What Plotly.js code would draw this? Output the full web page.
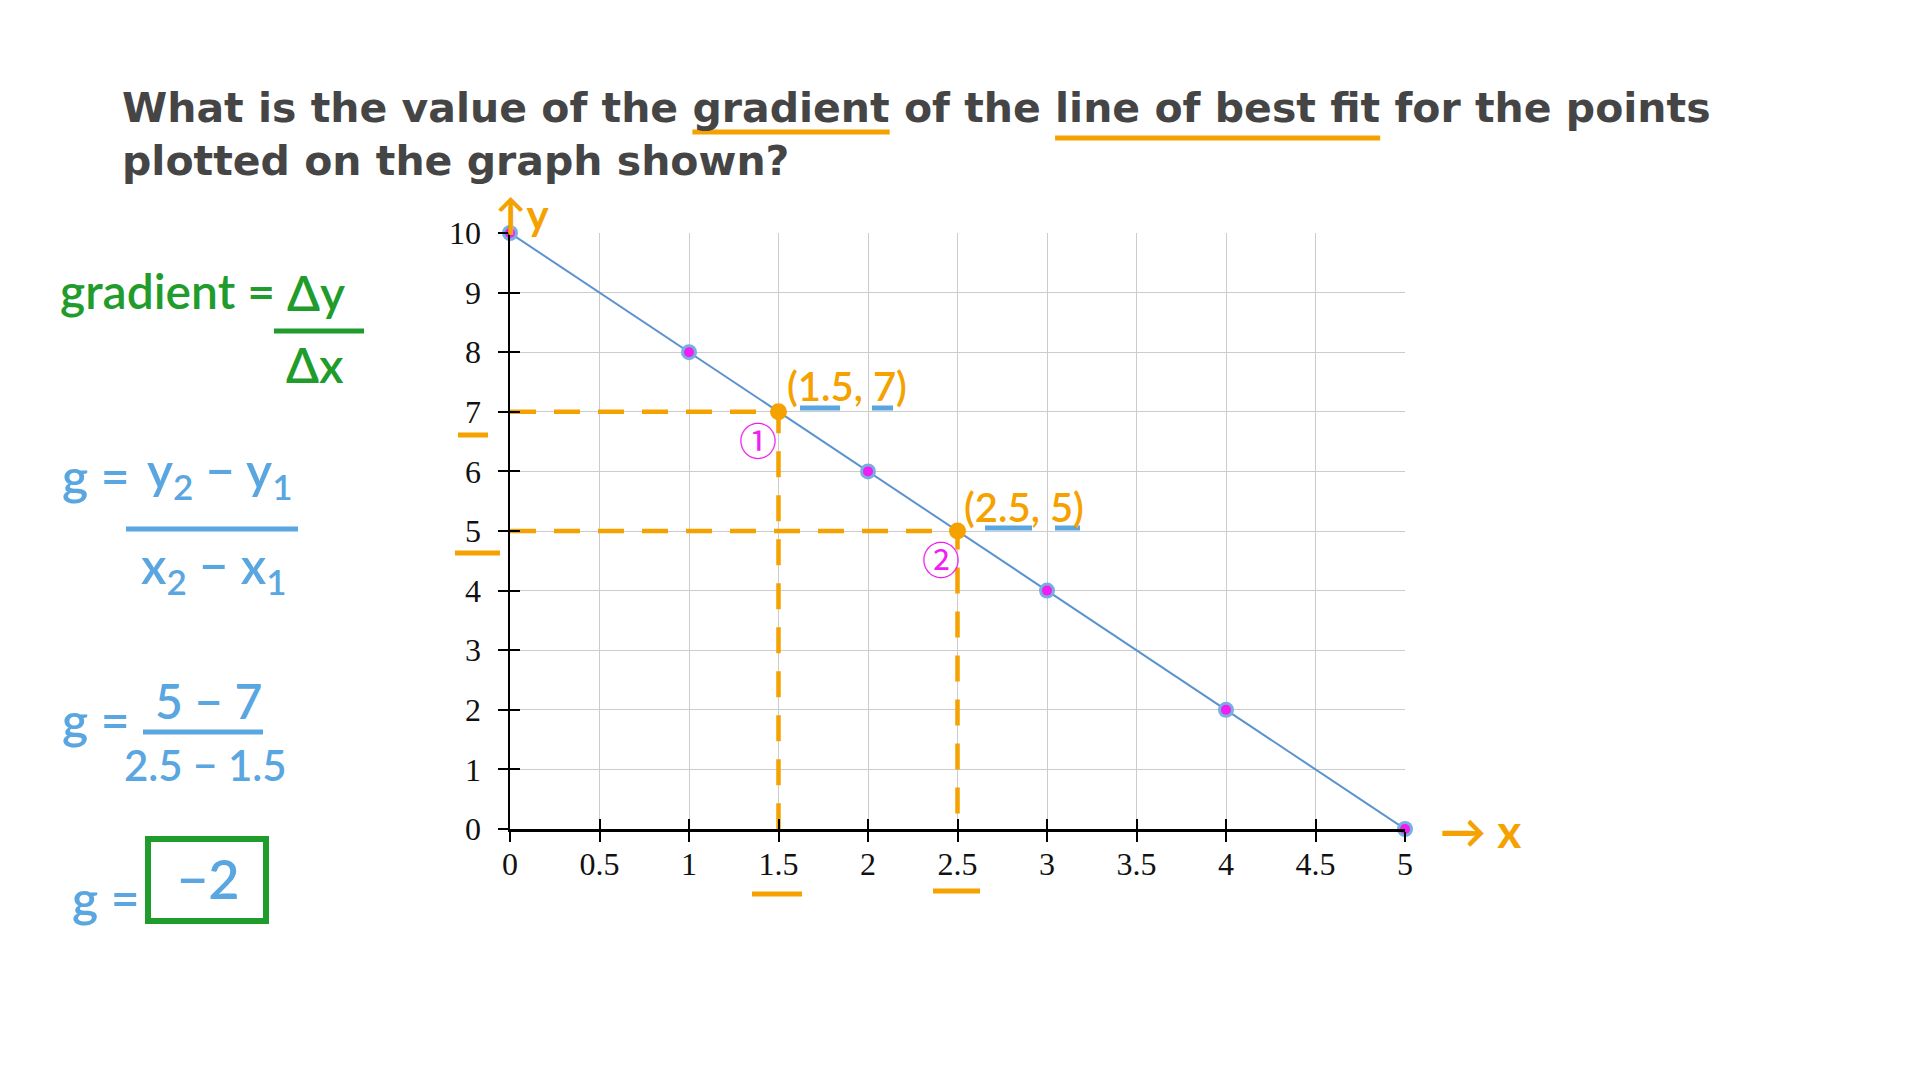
<!DOCTYPE html>
<html>
<head>
<meta charset="utf-8">
<script src="https://cdn.plot.ly/plotly-3.0.1.min.js"></script>
<style>html,body{margin:0;padding:0;background:#fff;}#chart{width:1920px;height:1080px;}</style>
</head>
<body>
<div id="chart"></div>
<script>
// ---- data ----
const pointsX = [0, 1, 2, 3, 4, 5];
const pointsY = [10, 8, 6, 4, 2, 0];
const chosenX = [1.5, 2.5];
const chosenY = [7, 5];
const chosenLabels = ['(1.5, 7)', '(2.5, 5)'];
const chosenTags = ['①', '②'];
const xTickVals = [0, 0.5, 1, 1.5, 2, 2.5, 3, 3.5, 4, 4.5, 5];
const xTickText = ['0', '0.5', '1', '1.5', '2', '2.5', '3', '3.5', '4', '4.5', '5'];
const yTickVals = [0, 1, 2, 3, 4, 5, 6, 7, 8, 9, 10];
const yTickText = ['0', '1', '2', '3', '4', '5', '6', '7', '8', '9', '10'];
const titleLines = ['What is the value of the gradient of the line of best fit for the points', 'plotted on the graph shown?'];

// ---- style ----
const ORANGE = '#f5a100', BLUE = '#5aa6e0', GREEN = '#1f9c2c', MAGENTA = '#f01ef0', LINE = '#5b93d0';
const HAND = 'Lato, "Noto Sans", sans-serif';
const L = 510, R = 1405, T = 233, B = 829;
const px = x => (x - L) / (R - L);
const py = y => (B - y) / (B - T);

const traces = [];
traces.push({x: [0], y: [0], xaxis: 'x2', yaxis: 'y2', mode: 'markers', marker: {opacity: 0}, hoverinfo: 'skip', showlegend: false});
// line of best fit + points
traces.push({x: pointsX, y: pointsY, mode: 'lines+markers', type: 'scatter', cliponaxis: false,
  line: {color: LINE, width: 2}, marker: {size: 16, color: '#79aee0'}, hoverinfo: 'x+y', showlegend: false});
traces.push({x: pointsX, y: pointsY, mode: 'markers', type: 'scatter', cliponaxis: false,
  marker: {size: 10, color: MAGENTA}, hoverinfo: 'skip', showlegend: false});
// dashed guides from chosen points to axes
chosenX.forEach((cx, i) => {
  traces.push({x: [0, cx, cx], y: [chosenY[i], chosenY[i], 0], mode: 'lines', type: 'scatter', cliponaxis: false,
    line: {color: ORANGE, width: 4.5, dash: '26px,18px'}, hoverinfo: 'skip', showlegend: false});
});
traces.push({x: chosenX, y: chosenY, mode: 'markers', type: 'scatter', cliponaxis: false,
  marker: {size: 17, color: ORANGE}, hoverinfo: 'x+y', showlegend: false});

const annotations = [];
const shapes = [];
function txt(text, x, y, size, color, xanchor, yanchor, weight) {
  annotations.push({text: text, x: px(x), y: py(y), xref: 'paper', yref: 'paper',
    xanchor: xanchor || 'center', yanchor: yanchor || 'middle', showarrow: false,
    font: {family: HAND, size: size, color: color, weight: weight || 400}});
}
function seg(x0, y0, x1, y1, color, w) {
  shapes.push({type: 'line', xref: 'paper', yref: 'paper', x0: px(x0), y0: py(y0), x1: px(x1), y1: py(y1),
    line: {color: color, width: w}, layer: 'above'});
}

// labels of chosen points
annotations.push({text: chosenLabels[0], x: chosenX[0], y: chosenY[0], xref: 'x', yref: 'y', xanchor: 'left', yanchor: 'bottom',
  xshift: 6, yshift: 0, showarrow: false, font: {family: HAND, size: 40, color: ORANGE, weight: 600}});
annotations.push({text: chosenLabels[1], x: chosenX[1], y: chosenY[1], xref: 'x', yref: 'y', xanchor: 'left', yanchor: 'bottom',
  xshift: 4, yshift: -2, showarrow: false, font: {family: HAND, size: 40, color: ORANGE, weight: 600}});
annotations.push({text: chosenTags[0], x: chosenX[0], y: chosenY[0], xref: 'x', yref: 'y', xanchor: 'center', yanchor: 'middle',
  xshift: -21, yshift: -27, showarrow: false, font: {family: '"Noto Sans CJK SC", sans-serif', size: 38, color: MAGENTA}});
annotations.push({text: chosenTags[1], x: chosenX[1], y: chosenY[1], xref: 'x', yref: 'y', xanchor: 'center', yanchor: 'middle',
  xshift: -17, yshift: -26, showarrow: false, font: {family: '"Noto Sans CJK SC", sans-serif', size: 38, color: MAGENTA}});
// blue underlines on the coordinates
seg(800, 408, 840, 408, BLUE, 5);
seg(872, 408, 893, 408, BLUE, 5);
seg(985, 528, 1032, 528, BLUE, 5);
seg(1055, 528, 1080, 528, BLUE, 5);
// orange underlines on tick labels
seg(752, 894, 802, 894, ORANGE, 5);
seg(933, 891, 980, 891, ORANGE, 5);
seg(458, 435, 488, 435, ORANGE, 5);
seg(455, 553, 500, 553, ORANGE, 5);
// axis arrows
txt('↑y', 522, 214, 42, ORANGE, 'center', 'middle', 700);
txt('→ x', 1480, 830, 46, ORANGE, 'center', 'middle', 700);

// working on the left
txt('gradient =', 58, 290, 48, GREEN, 'left', 'middle', 600);
txt('Δy', 316, 292, 48, GREEN, 'center', 'middle', 600);
seg(274, 331, 364, 331, GREEN, 5);
txt('Δx', 315, 364, 48, GREEN, 'center', 'middle', 600);

txt('g =', 60, 476, 50, BLUE, 'left', 'middle', 600);
txt('y<sub>2</sub> − y<sub>1</sub>', 220, 473, 50, BLUE, 'center', 'middle', 600);
seg(126, 529, 298, 529, BLUE, 5);
txt('x<sub>2</sub> − x<sub>1</sub>', 214, 568, 50, BLUE, 'center', 'middle', 600);

txt('g =', 60, 720, 50, BLUE, 'left', 'middle', 600);
txt('5 − 7', 208, 700, 48, BLUE, 'center', 'middle', 600);
seg(143, 732, 263, 732, BLUE, 5);
txt('2.5 − 1.5', 205, 765, 42, BLUE, 'center', 'middle', 600);

txt('g =', 70, 898, 50, BLUE, 'left', 'middle', 600);
shapes.push({type: 'rect', xref: 'paper', yref: 'paper', x0: px(148), x1: px(266), y0: py(839), y1: py(921),
  line: {color: GREEN, width: 6}, layer: 'above'});
txt('−2', 208, 878, 54, BLUE, 'center', 'middle', 600);

const axisFont = {family: '"Liberation Serif", "DejaVu Serif", serif', size: 32, color: '#111'};
const layout = {
  width: 1920, height: 1080,
  paper_bgcolor: '#fff', plot_bgcolor: '#fff',
  margin: {l: L, r: 1920 - R, t: T, b: 1080 - B, pad: 0},
  showlegend: false,
  title: {text: titleLines.join('<br>'), x: 122 / 1920, xanchor: 'left', xref: 'container',
    y: 1 - 122 / 1080, yanchor: 'top', yref: 'container',
    font: {family: '"DejaVu Sans", sans-serif', size: 41, color: '#454545', weight: 700}},
  xaxis: {range: [0, 5], tickvals: xTickVals, ticktext: xTickText, showgrid: true, gridcolor: '#cccccc', gridwidth: 1,
    zeroline: false, showline: true, linecolor: '#000', linewidth: 2.5, ticks: 'outside', ticklen: 10, tickwidth: 2,
    tickcolor: '#000', tickfont: axisFont, ticklabelstandoff: -5, fixedrange: true},
  yaxis: {range: [0, 10], tickvals: yTickVals, ticktext: yTickText, showgrid: true, gridcolor: '#cccccc', gridwidth: 1,
    zeroline: false, showline: true, linecolor: '#000', linewidth: 2.5, ticks: 'outside', ticklen: 10, tickwidth: 2,
    tickcolor: '#000', tickfont: axisFont, ticklabelstandoff: 10, fixedrange: true},
  xaxis2: {range: [0, 5], overlaying: 'x', anchor: 'y', side: 'bottom', tickvals: xTickVals, showticklabels: false,
    showgrid: false, zeroline: false, showline: false, ticks: 'inside', ticklen: 10, tickwidth: 2, tickcolor: '#000', fixedrange: true},
  yaxis2: {range: [0, 10], overlaying: 'y', anchor: 'x', side: 'left', tickvals: yTickVals, showticklabels: false,
    showgrid: false, zeroline: false, showline: false, ticks: 'inside', ticklen: 10, tickwidth: 2, tickcolor: '#000', fixedrange: true},
  annotations: annotations,
  shapes: shapes
};

Plotly.newPlot('chart', traces, layout, {displayModeBar: false, staticPlot: true}).then(gd => {
  // underline the key words of the title where they were actually drawn
  const t = gd.querySelector('.gtitle');
  if (!t) return;
  const spans = t.querySelectorAll('tspan.line');
  const first = spans.length ? spans[0] : t;
  const words = [['gradient', 0], ['line of best fit', 6]];
  const full = first.textContent;
  if (!first.getSubStringLength) return;
  const extra = [];
  words.forEach(([w, dy]) => {
    const i = full.indexOf(w);
    if (i < 0) return;
    let x0, base;
    try { x0 = first.getStartPositionOfChar(i).x; base = first.getStartPositionOfChar(i).y; } catch (e) { return; }
    const len = first.getSubStringLength(i, w.length);
    extra.push({type: 'line', xref: 'paper', yref: 'paper', x0: px(x0), x1: px(x0 + len),
      y0: py(base + 10 + dy), y1: py(base + 10 + dy), line: {color: ORANGE, width: 5}, layer: 'above'});
  });
  Plotly.relayout(gd, {shapes: shapes.concat(extra)});
});
</script>
</body>
</html>
